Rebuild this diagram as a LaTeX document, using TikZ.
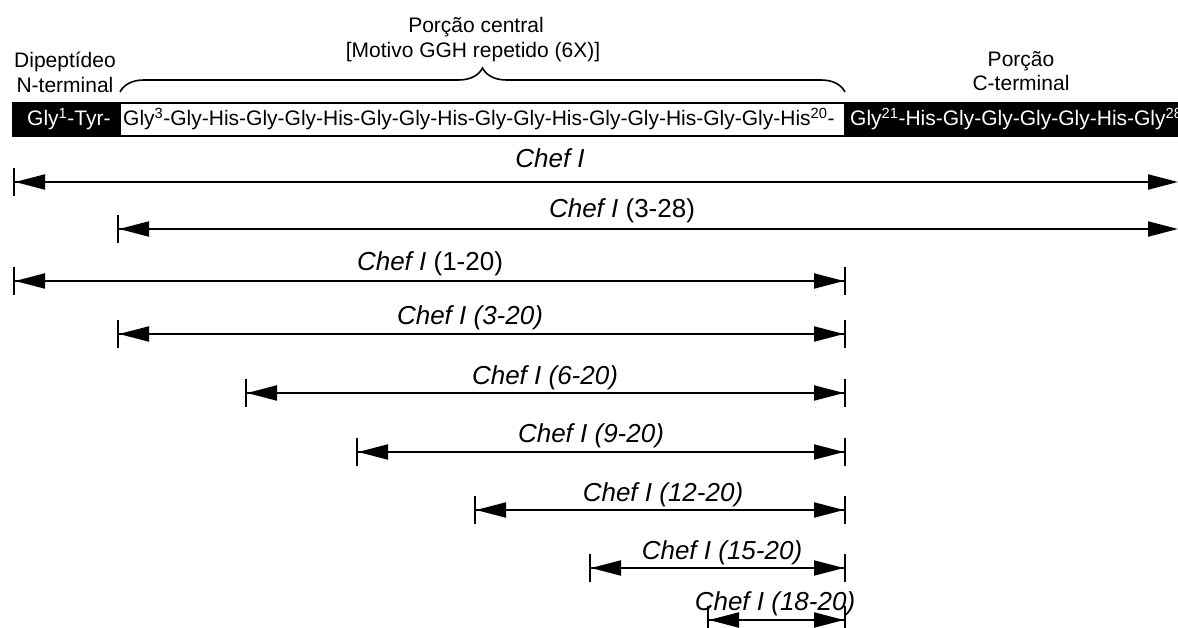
\documentclass[tikz,border=0pt]{standalone}
\usepackage{fontspec}
\setmainfont{Liberation Sans}
\usetikzlibrary{arrows.meta,decorations.pathreplacing}
\tikzset{
  lbl/.style={anchor=base, inner sep=0pt, font=\fontsize{26}{30}\selectfont},
  ttl/.style={align=center, inner sep=0pt, font=\fontsize{21}{25}\selectfont},
  bartxt/.style={anchor=base west, inner sep=0pt, font=\fontsize{21}{25}\selectfont},
  span/.style={line width=2pt, {Bar[width=28pt] Triangle[length=30pt,width=15pt]}-{Triangle[length=30pt,width=15pt] Bar[width=28pt]}},
  openspan/.style={line width=2pt, {Bar[width=28pt] Triangle[length=30pt,width=15pt]}-{Triangle[length=30pt,width=15pt]}},
}
\begin{document}
\begin{tikzpicture}[x=1pt,y=-1pt]
\useasboundingbox[fill=white] (0,0) rectangle (1178,628);
% titles
\node[ttl, anchor=base] (pc1) at (476,33) {Porção central};
\node[ttl, anchor=base] (pc2) at (473,58) {[Motivo GGH repetido (6X)]};
\node[ttl, anchor=base] (nt1) at (65,68) {Dipeptídeo};
\node[ttl, anchor=base] (nt2) at (65,93) {N-terminal};
\node[ttl, anchor=base] (ct1) at (1021,67) {Porção};
\node[ttl, anchor=base] (ct2) at (1021,91) {C-terminal};
\coordinate (bl) at (120,92);
\coordinate (br) at (845,92);
\draw[line width=1.6pt, decorate, decoration={brace, amplitude=24pt}] (bl) -- (br);
% bar
\begin{scope}
\clip (0,0) rectangle (1178,628);
\fill[black] (12,102) rectangle (120,137);
\fill[black] (845,102) rectangle (1180,137);
\draw[line width=2pt, fill=white] (120,103) rectangle (845,136);
\node[bartxt, text=white] (nterm) at (27,126) {Gly\textsuperscript{1}-Tyr-};
\node[bartxt] (core) at (123,126) {Gly\textsuperscript{3}-Gly-His-Gly-Gly-His-Gly-Gly-His-Gly-Gly-His-Gly-Gly-His-Gly-Gly-His\textsuperscript{20}-};
\node[bartxt, text=white] (cterm) at (850,126) {Gly\textsuperscript{21}-His-Gly-Gly-Gly-Gly-His-Gly\textsuperscript{28}};
\end{scope}
% spans
\coordinate (a1l) at (13,182);  \coordinate (a1r) at (1178,182);
\coordinate (a2l) at (117,229); \coordinate (a2r) at (1178,229);
\coordinate (a3l) at (13,281);  \coordinate (a3r) at (846,281);
\coordinate (a4l) at (117,334); \coordinate (a4r) at (846,334);
\coordinate (a5l) at (245,393); \coordinate (a5r) at (846,393);
\coordinate (a6l) at (356,452); \coordinate (a6r) at (846,452);
\coordinate (a7l) at (474,510); \coordinate (a7r) at (846,510);
\coordinate (a8l) at (589,568); \coordinate (a8r) at (846,568);
\coordinate (a9l) at (707,620); \coordinate (a9r) at (846,620);
\draw[openspan] (a1l) -- (a1r);
\draw[openspan] (a2l) -- (a2r);
\draw[span] (a3l) -- (a3r);
\draw[span] (a4l) -- (a4r);
\draw[span] (a5l) -- (a5r);
\draw[span] (a6l) -- (a6r);
\draw[span] (a7l) -- (a7r);
\draw[span] (a8l) -- (a8r);
\draw[span] (a9l) -- (a9r);
\node[lbl] (l1) at (550,168) {\textit{Chef I}};
\node[lbl] (l2) at (622,218) {\textit{Chef I} (3-28)};
\node[lbl] (l3) at (430,271) {\textit{Chef I} (1-20)};
\node[lbl] (l4) at (470,325) {\textit{Chef I (3-20)}};
\node[lbl] (l5) at (545,384) {\textit{Chef I (6-20)}};
\node[lbl] (l6) at (591,442) {\textit{Chef I (9-20)}};
\node[lbl] (l7) at (663,501) {\textit{Chef I (12-20)}};
\node[lbl] (l8) at (722,559) {\textit{Chef I (15-20)}};
\node[lbl] (l9) at (775,610) {\textit{Chef I (18-20)}};
\end{tikzpicture}
\end{document}
